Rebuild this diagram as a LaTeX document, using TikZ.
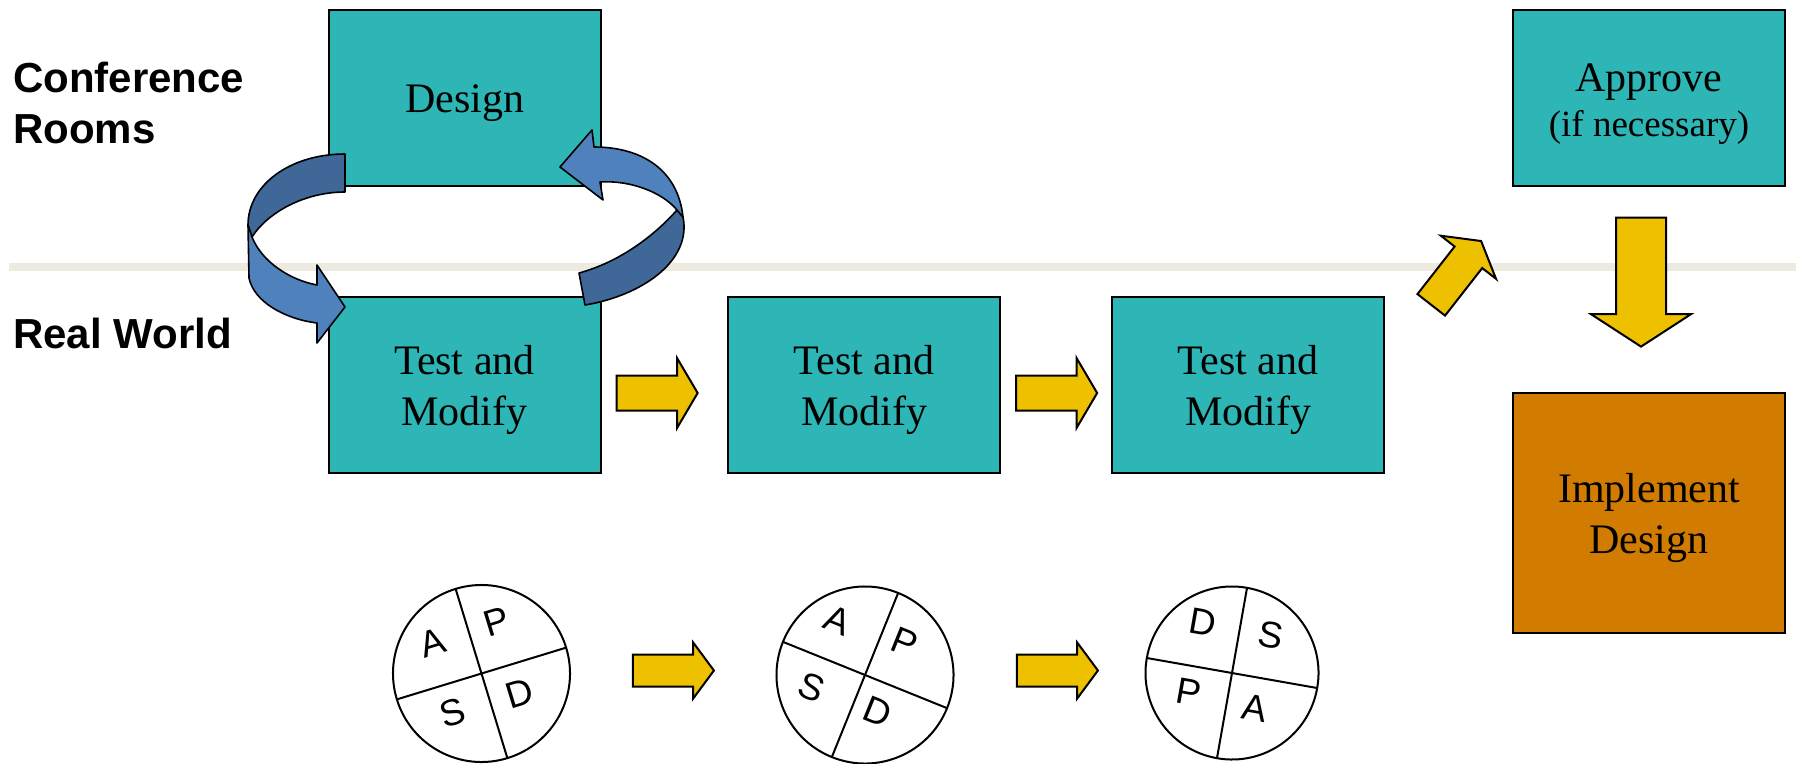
\documentclass[tikz,border=0pt]{standalone}
\usepackage{fontspec}
\setmainfont{Liberation Serif}
\newfontfamily\labelfont{Liberation Sans}
\usetikzlibrary{shapes.arrows}

\definecolor{boxteal}{RGB}{46,181,181}
\definecolor{boxorange}{RGB}{209,123,0}
\definecolor{arrowgold}{RGB}{237,193,0}
\definecolor{ribbondark}{RGB}{63,103,152}
\definecolor{ribbonlight}{RGB}{79,129,189}
\definecolor{divider}{RGB}{237,234,224}

% keeps the text of the boxes a little below the middle
\newcommand{\boxstrut}{\rule[-7pt]{0pt}{47pt}}

\tikzset{
    stepbox/.style={draw, line width=2pt, fill=boxteal, minimum width=272pt,
        minimum height=176pt, inner sep=0pt, align=center,
        font=\fontsize{42}{51}\selectfont,
        execute at end node=\boxstrut},
    sidelabel/.style={inner sep=0pt, align=left,
        font=\labelfont\bfseries\fontsize{42}{51}\selectfont},
    goldarrow/.style={single arrow, draw, line width=2pt, fill=arrowgold,
        inner xsep=0pt, inner ysep=16.5pt, outer sep=0pt,
        minimum height=81pt, minimum width=68pt,
        single arrow head extend=17.5pt, single arrow tip angle=119,
        single arrow head indent=0pt},
    pdsa/.style={circle, draw, line width=2pt, minimum size=177pt,
        inner sep=0pt, outer sep=0pt},
    pdsaletter/.style={inner sep=0pt, font=\labelfont\fontsize{37}{40}\selectfont},
    ribbon/.style={draw=black, line width=1.6pt, line join=round}
}

\begin{document}
\begin{tikzpicture}[x=1pt, y=-1pt]
    \useasboundingbox (0,0) rectangle (1796,763);

    % line between the two rows
    \draw[divider, line width=8pt] (9,267) -- (1796,267);

    \node[sidelabel, anchor=base west] (rooms) at (13,143) {Conference\\Rooms};
    \node[sidelabel, anchor=base west] (world) at (13,348) {Real World};

    % boxes
    \node[stepbox] (design) at (465,97.5) {\boxstrut Design};
    \node[stepbox] (test1) at (464.5,385) {\boxstrut Test and\\Modify};
    \node[stepbox] (test2) at (864,385) {\boxstrut Test and\\Modify};
    \node[stepbox] (test3) at (1248,385) {\boxstrut Test and\\Modify};
    \node[stepbox] (approve) at (1649,97.5)
        {\boxstrut Approve\\[-6pt]{\fontsize{37}{45}\selectfont(if necessary)}};
    \node[stepbox, fill=boxorange, minimum height=240pt] (implement) at (1649,513)
        {\boxstrut Implement\\Design};

    % loop between design and the first test
    \filldraw[ribbon, fill=ribbondark]
        (345,154) .. controls (290,154) and (248,185) .. (248,225)
        -- (252,237) .. controls (268,212) and (305,192) .. (345,192) -- cycle;
    \filldraw[ribbon, fill=ribbonlight]
        (248,225) -- (249,278) .. controls (254,302) and (285,319) .. (317,323)
        -- (317,343) -- (345,307) -- (317,265) -- (317,285)
        .. controls (290,280) and (262,262) .. (252,237) -- cycle;
    \filldraw[ribbon, fill=ribbondark]
        (677,210) .. controls (655,235) and (620,262) .. (579,273)
        -- (585,305) .. controls (640,296) and (692,262) .. (683,217) -- cycle;
    \filldraw[ribbon, fill=ribbonlight]
        (560,167) -- (592,130) -- (594,147) .. controls (642,147) and (678,170) .. (683,217)
        -- (677,210) .. controls (662,192) and (630,180) .. (600,182) -- (603,200) -- cycle;

    % yellow arrows
    \node[goldarrow] (step1) at (652,393) {};
    \node[goldarrow] (step2) at (1051.5,393) {};
    \node[goldarrow, rotate=52] (up) at (1453,277) {};
    \node[goldarrow, rotate=-90, minimum height=129pt, minimum width=98pt,
        inner ysep=24pt, single arrow head extend=25pt,
        single arrow tip angle=114] (down) at (1641,274) {};
    \node[goldarrow, minimum width=54pt, inner ysep=15pt,
        single arrow head extend=12pt, single arrow tip angle=107] (turn1) at (667.5,670.5) {};
    \node[goldarrow, minimum width=54pt, inner ysep=15pt,
        single arrow head extend=12pt, single arrow tip angle=107] (turn2) at (1051.5,670.5) {};

    % PDSA wheels
    \node[pdsa, rotate=17] (cycle1) at (481.5,673.5) {};
    \draw[line width=2pt] (cycle1.north) -- (cycle1.south) (cycle1.west) -- (cycle1.east);
    \node[pdsaletter, rotate=17] (act1) at (433,643) {A};
    \node[pdsaletter, rotate=17] (plan1) at (497,622) {P};
    \node[pdsaletter, rotate=17] (study1) at (453,713) {S};
    \node[pdsaletter, rotate=17] (do1) at (520,693) {D};

    \node[pdsa, rotate=-22] (cycle2) at (865,675) {};
    \draw[line width=2pt] (cycle2.north) -- (cycle2.south) (cycle2.west) -- (cycle2.east);
    \node[pdsaletter, rotate=-22] (act2) at (838,620) {A};
    \node[pdsaletter, rotate=-22] (plan2) at (905,642) {P};
    \node[pdsaletter, rotate=-22] (study2) at (812,687) {S};
    \node[pdsaletter, rotate=-22] (do2) at (878,712) {D};

    \node[pdsa, rotate=-10, minimum size=173pt] (cycle3) at (1232,673) {};
    \draw[line width=2pt] (cycle3.north) -- (cycle3.south) (cycle3.west) -- (cycle3.east);
    \node[pdsaletter, rotate=-10] (do3) at (1203,622) {D};
    \node[pdsaletter, rotate=-10] (study3) at (1271,635) {S};
    \node[pdsaletter, rotate=-10] (plan3) at (1189,692) {P};
    \node[pdsaletter, rotate=-10] (act3) at (1255,708) {A};

\end{tikzpicture}
\end{document}
